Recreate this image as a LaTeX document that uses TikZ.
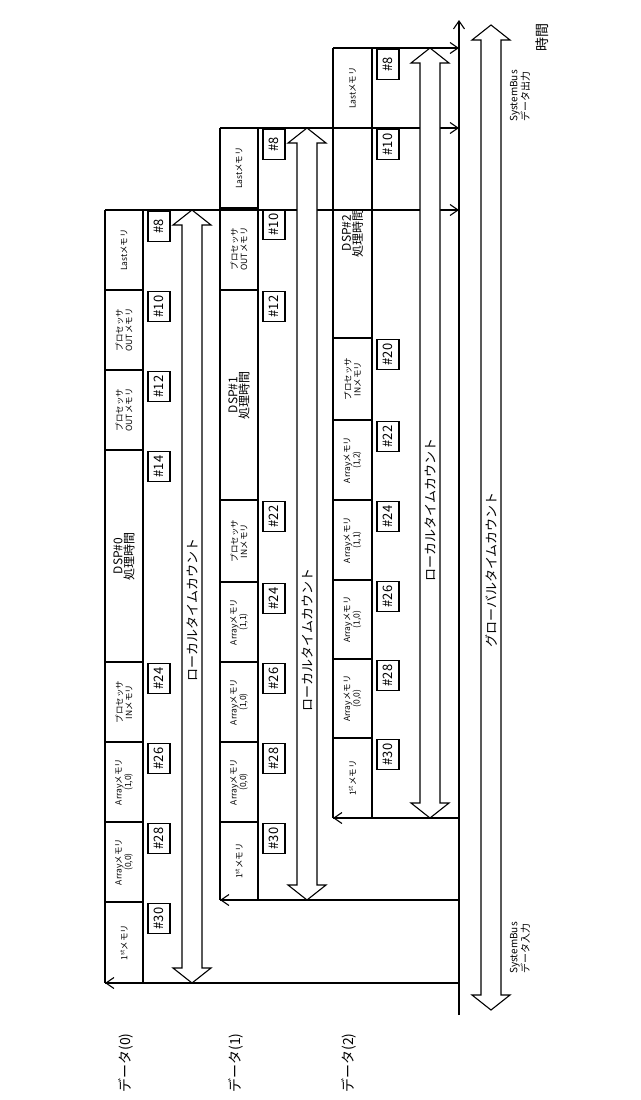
\documentclass[tikz,border=0pt]{standalone}
\usepackage{fontspec}
\setmainfont{Noto Sans CJK JP}
\usetikzlibrary{positioning}
\usetikzlibrary{arrows.meta}

\tikzset{
  every path/.style={line width=1.1pt},
  celltext/.style={rotate=90, align=center, font=\fontsize{8.5}{9.5}\selectfont, inner sep=0pt},
  numbox/.style={rotate=90, draw, line width=1.1pt, font=\fontsize{13}{13}\selectfont,
                 minimum width=30pt, minimum height=22pt, inner sep=1pt, anchor=east},
  flow/.style={-{Straight Barb[length=8pt,width=11pt,line width=1.1pt]}},
  countlabel/.style={rotate=90, font=\fontsize{13}{13}\selectfont, inner sep=0pt},
  sidelabel/.style={rotate=90, align=center, font=\fontsize{10}{10.5}\selectfont, inner sep=0pt}
}
\newcommand{\dspfont}{\fontsize{12}{12.5}\selectfont}
% one memory slot: label column L..D, from ytop to ybot, text, number
\newcommand{\memcell}[6]{%
  \draw (#1,#4) -- (#2,#4);
  \node[celltext] at ({(#1+#2)/2},{(#3+#4)/2}) {#5};
  \node[numbox] at (#2+16,#3+1) {\##6};
}
% hollow double arrow for a time count
\newcommand{\timearrow}[4]{%
  \draw[fill=white] (#1-10,#2+15) -- (#1-19,#2+15) -- (#1,#2) -- (#1+19,#2+15)
    -- (#1+10,#2+15) -- (#1+10,#3-15) -- (#1+19,#3-15) -- (#1,#3) -- (#1-19,#3-15)
    -- (#1-10,#3-15) -- cycle;
  \node[countlabel] (#4) at (#1,{(#2+#3)/2}) {};
}

\begin{document}
\begin{tikzpicture}[x=1pt, y=-1pt]
\useasboundingbox (0,0) rectangle (640,1100);

% system bus
\coordinate (bus-s) at (459,1015);
\coordinate (bus-n) at (459,20);
\draw[flow] (bus-s) -- (bus-n);

% DSP#0
\coordinate (b0-out) at (105,210);
\coordinate (b0-in) at (105,983);
\draw (b0-out) -- (b0-in) (143,210) -- (143,983);
\memcell{105}{143}{210}{290}{Lastメモリ}{8}
\memcell{105}{143}{290}{370}{プロセッサ\\OUTメモリ}{10}
\memcell{105}{143}{370}{450}{プロセッサ\\OUTメモリ}{12}
\memcell{105}{143}{450}{662}{\dspfont DSP\#0\\\dspfont 処理時間}{14}
\memcell{105}{143}{662}{742}{プロセッサ\\INメモリ}{24}
\memcell{105}{143}{742}{822}{Arrayメモリ\\(1,0)}{26}
\memcell{105}{143}{822}{902}{Arrayメモリ\\(0,0)}{28}
\memcell{105}{143}{902}{983}{1\textsuperscript{st}メモリ}{30}
\draw[flow] (b0-out) -- (b0-out -| bus-s);
\draw[flow] (b0-in -| bus-s) -- (b0-in);
\timearrow{192}{210}{983}{lc0}
\node[countlabel] at (192,610) {ローカルタイムカウント};

% DSP#1
\coordinate (b1-out) at (220,128);
\coordinate (b1-in) at (220,900);
\draw (b1-out) -- (b1-in) (258,128) -- (258,900);
\memcell{220}{258}{128}{208}{Lastメモリ}{8}
\memcell{220}{258}{208}{290}{プロセッサ\\OUTメモリ}{10}
\memcell{220}{258}{290}{500}{\dspfont DSP\#1\\\dspfont 処理時間}{12}
\memcell{220}{258}{500}{582}{プロセッサ\\INメモリ}{22}
\memcell{220}{258}{582}{662}{Arrayメモリ\\(1,1)}{24}
\memcell{220}{258}{662}{742}{Arrayメモリ\\(1,0)}{26}
\memcell{220}{258}{742}{822}{Arrayメモリ\\(0,0)}{28}
\memcell{220}{258}{822}{900}{1\textsuperscript{st}メモリ}{30}
\draw[flow] (b1-out) -- (b1-out -| bus-s);
\draw[flow] (b1-in -| bus-s) -- (b1-in);
\timearrow{307}{128}{900}{lc1}
\node[countlabel] at (307,640) {ローカルタイムカウント};

% DSP#2
\coordinate (b2-out) at (333,48);
\coordinate (b2-in) at (333,818);
\draw (b2-out) -- (b2-in) (372,48) -- (372,818);
\memcell{333}{372}{48}{128}{Lastメモリ}{8}
\memcell{333}{372}{128}{338}{\dspfont DSP\#2\\\dspfont 処理時間}{10}
\memcell{333}{372}{338}{420}{プロセッサ\\INメモリ}{20}
\memcell{333}{372}{420}{500}{Arrayメモリ\\(1,2)}{22}
\memcell{333}{372}{500}{580}{Arrayメモリ\\(1,1)}{24}
\memcell{333}{372}{580}{659}{Arrayメモリ\\(1,0)}{26}
\memcell{333}{372}{659}{738}{Arrayメモリ\\(0,0)}{28}
\memcell{333}{372}{738}{818}{1\textsuperscript{st}メモリ}{30}
\draw[flow] (b2-out) -- (b2-out -| bus-s);
\draw[flow] (b2-in -| bus-s) -- (b2-in);
\timearrow{430}{48}{818}{lc2}
\node[countlabel] at (430,510) {ローカルタイムカウント};

% global count
\timearrow{491}{25}{1010}{gc}
\node[countlabel] at (491,570) {グローバルタイムカウント};

% side labels
\node[countlabel, font=\fontsize{14}{14}\selectfont] (d0) at (126,1063) {データ(0)};
\node[countlabel, font=\fontsize{14}{14}\selectfont] (d1) at (236,1063) {データ(1)};
\node[countlabel, font=\fontsize{14}{14}\selectfont] (d2) at (349,1063) {データ(2)};
\node[sidelabel] (sb-in) at (520,948) {SystemBus\\データ入力};
\node[sidelabel] (sb-out) at (520,96) {SystemBus\\データ出力};
\node[countlabel, font=\fontsize{14}{14}\selectfont] (time) at (542,37) {時間};
\end{tikzpicture}
\end{document}
